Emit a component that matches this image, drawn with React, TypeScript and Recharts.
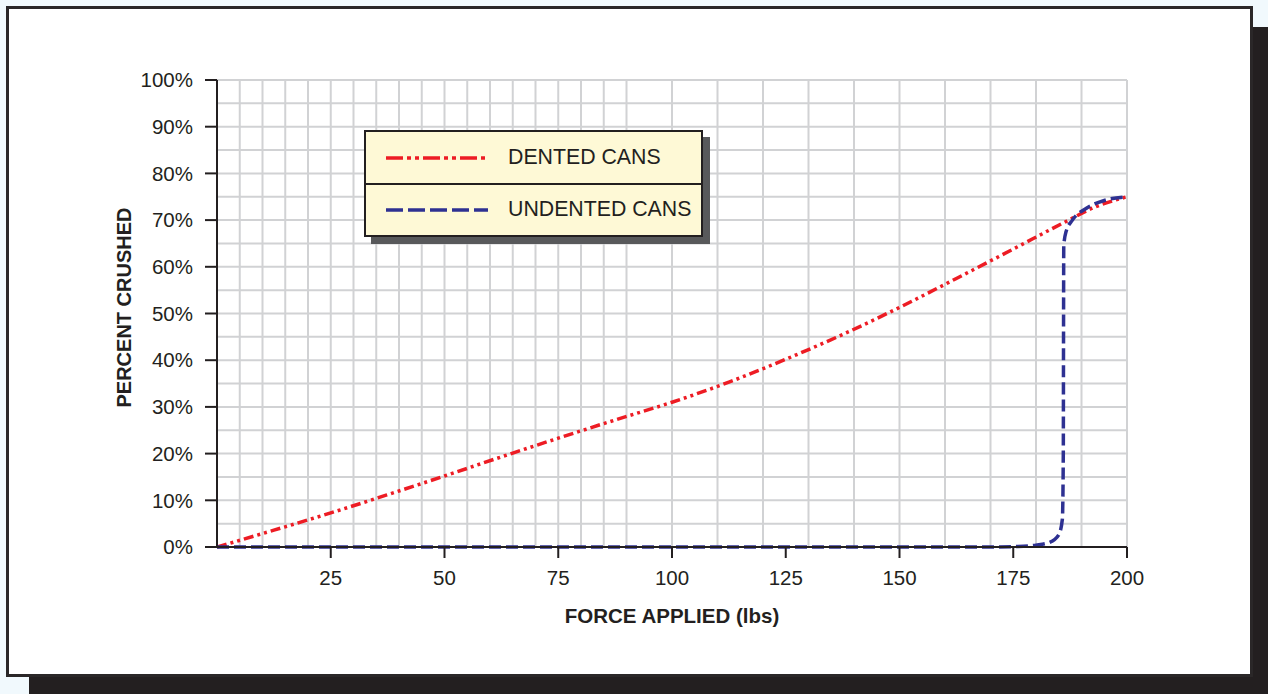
import React from 'react';
import { LineChart, Line, XAxis, YAxis, CartesianGrid } from 'recharts';

const forceDented = [0, 12.5, 25, 37.5, 50, 62.5, 75, 87.5, 100, 112.5, 125, 137.5, 150, 162.5, 175, 186, 193, 200];
const pctDented = [0, 3.6, 7.3, 11.2, 15.2, 19.3, 23.3, 27.2, 31.0, 35.3, 40.2, 45.5, 51.3, 57.5, 63.8, 69.4, 72.8, 75];

const forceUndented = [0, 100, 170, 176, 180, 183, 185, 185.8, 186, 186.05, 186.1, 186.6, 188, 191, 195, 200];
const pctUndented = [0, 0, 0, 0.1, 0.4, 1.0, 2.6, 6, 20, 45, 64.5, 67.5, 70.0, 72.5, 74.2, 75];

const xTickValues = [25, 50, 75, 100, 125, 150, 175, 200];
const yTickValues = [0, 10, 20, 30, 40, 50, 60, 70, 80, 90, 100];
const xGridValues = Array.from({ length: 41 }, (_, i) => i * 5);
const yGridValues = Array.from({ length: 21 }, (_, i) => i * 5);

const seriesNames = ['DENTED CANS', 'UNDENTED CANS'];

const dentedData = forceDented.map((x, i) => ({ x, y: pctDented[i] }));
const undentedData = forceUndented.map((x, i) => ({ x, y: pctUndented[i] }));

const DARK = '#231f20';
const RED = '#ed1c24';
const BLUE = '#2e3192';
const FONT = '"Liberation Sans", Arial, Helvetica, sans-serif';

export default function App() {
  return (
    <div style={{ position: 'absolute', left: 0, top: 0, width: 1268, height: 694, background: '#f1f9fd', overflow: 'hidden', fontFamily: FONT }}>
      <div style={{ position: 'absolute', left: 29, top: 27, width: 1239, height: 667, background: DARK }} />
      <div style={{ position: 'absolute', left: 6, top: 6, width: 1241, height: 665, background: '#ffffff', border: '3px solid #2a2728' }} />
      <div style={{ position: 'absolute', left: 0, top: 0 }}>
        <LineChart width={1268} height={694} margin={{ top: 80, right: 141, bottom: 117, left: 157 }}>
          <CartesianGrid
            stroke="#d1d2d4"
            strokeWidth={2}
            verticalValues={xGridValues}
            horizontalValues={yGridValues}
          />
          <XAxis
            type="number"
            dataKey="x"
            domain={[0, 200]}
            ticks={xTickValues}
            allowDataOverflow
            height={30}
            tickSize={11}
            tickMargin={12}
            stroke={DARK}
            strokeWidth={2}
            tick={{ fill: DARK, fontSize: 20.5, fontFamily: FONT }}
            label={{ value: 'FORCE APPLIED (lbs)', position: 'bottom', offset: 31, style: { fill: DARK, fontSize: 20.5, fontWeight: 'bold', fontFamily: FONT } }}
          />
          <YAxis
            type="number"
            domain={[0, 100]}
            ticks={yTickValues}
            width={60}
            tickSize={12}
            tickMargin={12}
            stroke={DARK}
            strokeWidth={2}
            tickFormatter={(v: number) => `${v}%`}
            tick={{ fill: DARK, fontSize: 20.5, fontFamily: FONT }}
            label={{ value: 'PERCENT CRUSHED', angle: -90, position: 'left', offset: 33, dy: -6, style: { fill: DARK, fontSize: 20, fontWeight: 'bold', fontFamily: FONT, textAnchor: 'middle' } }}
          />
          <Line
            data={dentedData}
            dataKey="y"
            type="monotone"
            stroke={RED}
            strokeWidth={3.5}
            strokeDasharray="10 4 3 4 3 4"
            dot={false}
            isAnimationActive={false}
            name={seriesNames[0]}
          />
          <Line
            data={undentedData}
            dataKey="y"
            type="monotone"
            stroke={BLUE}
            strokeWidth={3.5}
            strokeDasharray="12 5"
            dot={false}
            isAnimationActive={false}
            name={seriesNames[1]}
          />
        </LineChart>
      </div>
      {/* Legend */}
      <div style={{ position: 'absolute', left: 371, top: 137, width: 339, height: 107, background: '#58595b' }} />
      <div style={{ position: 'absolute', left: 364, top: 130, width: 335, height: 103, background: '#fef9d6', border: `2px solid ${DARK}` }}>
        {seriesNames.map((name, i) => (
          <div key={name} style={{ position: 'relative', height: 51, borderTop: i === 1 ? `2px solid ${DARK}` : 'none' }}>
            <svg width={110} height={10} style={{ position: 'absolute', left: 18, top: i === 1 ? 20 : 21 }}>
              <line x1={2} y1={5} x2={104} y2={5} stroke={i === 0 ? RED : BLUE} strokeWidth={3.5} strokeDasharray={i === 0 ? '17 4 4 4 4 4' : '17 5'} />
            </svg>
            <span style={{ position: 'absolute', left: 142, top: i === 1 ? 12 : 13, fontSize: 21.3, color: DARK, lineHeight: '24px', whiteSpace: 'nowrap' }}>{name}</span>
          </div>
        ))}
      </div>
    </div>
  );
}
